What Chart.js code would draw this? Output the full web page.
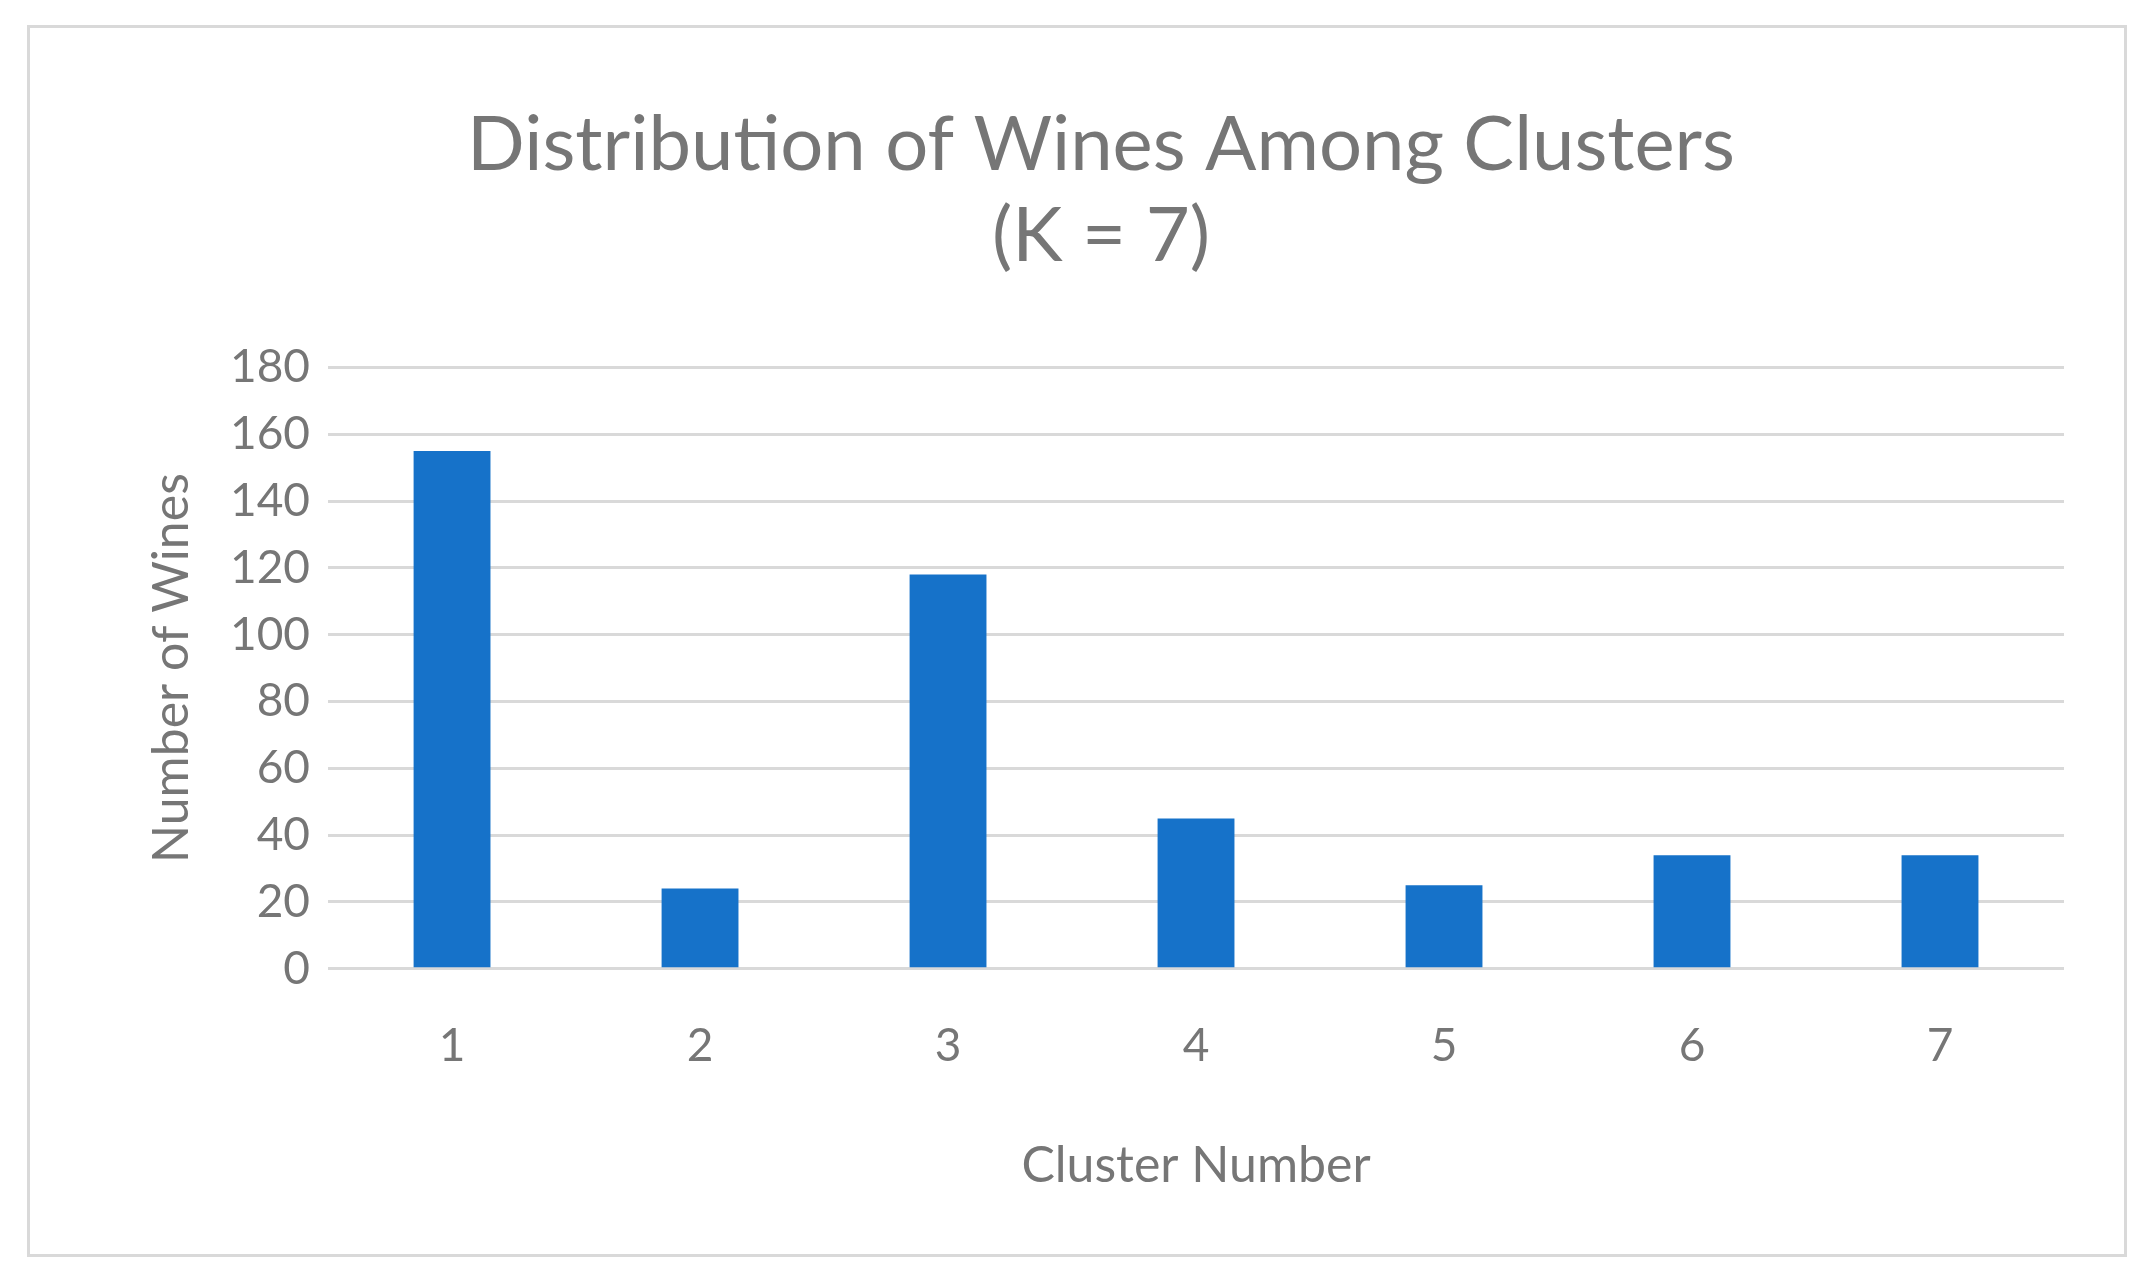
<!DOCTYPE html>
<html><head><meta charset="utf-8">
<script src="https://cdn.jsdelivr.net/npm/chart.js@4"></script>
<style>
html,body{margin:0;padding:0;background:#fff;}
#box{position:absolute;left:27px;top:25px;width:2094px;height:1226px;border:3px solid #d9d9d9;}
canvas{display:block;}
</style></head><body>
<div id="box"><canvas id="c" width="2094" height="1226"></canvas></div>
<script>
const categories = ["1","2","3","4","5","6","7"];
const wines = [155, 24, 118, 45, 25, 34, 34];
const titleLines = ["Distribution of Wines Among Clusters", "(K = 7)"];
const FONT = "Lato, 'Open Sans', sans-serif";
new Chart(document.getElementById('c'), {
  type: 'bar',
  data: { labels: categories, datasets: [{ data: wines, backgroundColor: '#1672c9', barPercentage: 0.31, categoryPercentage: 1 }] },
  options: {
    responsive: false, animation: false, devicePixelRatio: 1,
    layout: { padding: { left: 108, right: 60, top: 72, bottom: 54 } },
    plugins: {
      legend: { display: false }, tooltip: { enabled: false },
      title: { display: true, text: titleLines, color: '#767676', font: { family: FONT, size: 76, weight: 'normal' }, lineHeight: 1.35, padding: { top: 0, bottom: 85 } }
    },
    scales: {
      x: {
        grid: { display: false }, border: { display: false },
        ticks: { color: '#767676', font: { family: FONT, size: 46 }, padding: 42 },
        title: { display: true, text: 'Cluster Number', color: '#767676', font: { family: FONT, size: 50 }, padding: { top: 20 } }
      },
      y: {
        min: 0, max: 180,
        grid: { color: '#d9d9d9', lineWidth: 3, drawTicks: false }, border: { display: false },
        ticks: { stepSize: 20, color: '#767676', font: { family: FONT, size: 46 }, padding: 18 },
        title: { display: true, text: 'Number of Wines', color: '#767676', font: { family: FONT, size: 50 }, padding: { bottom: 10 } }
      }
    }
  }
});
</script></body></html>
